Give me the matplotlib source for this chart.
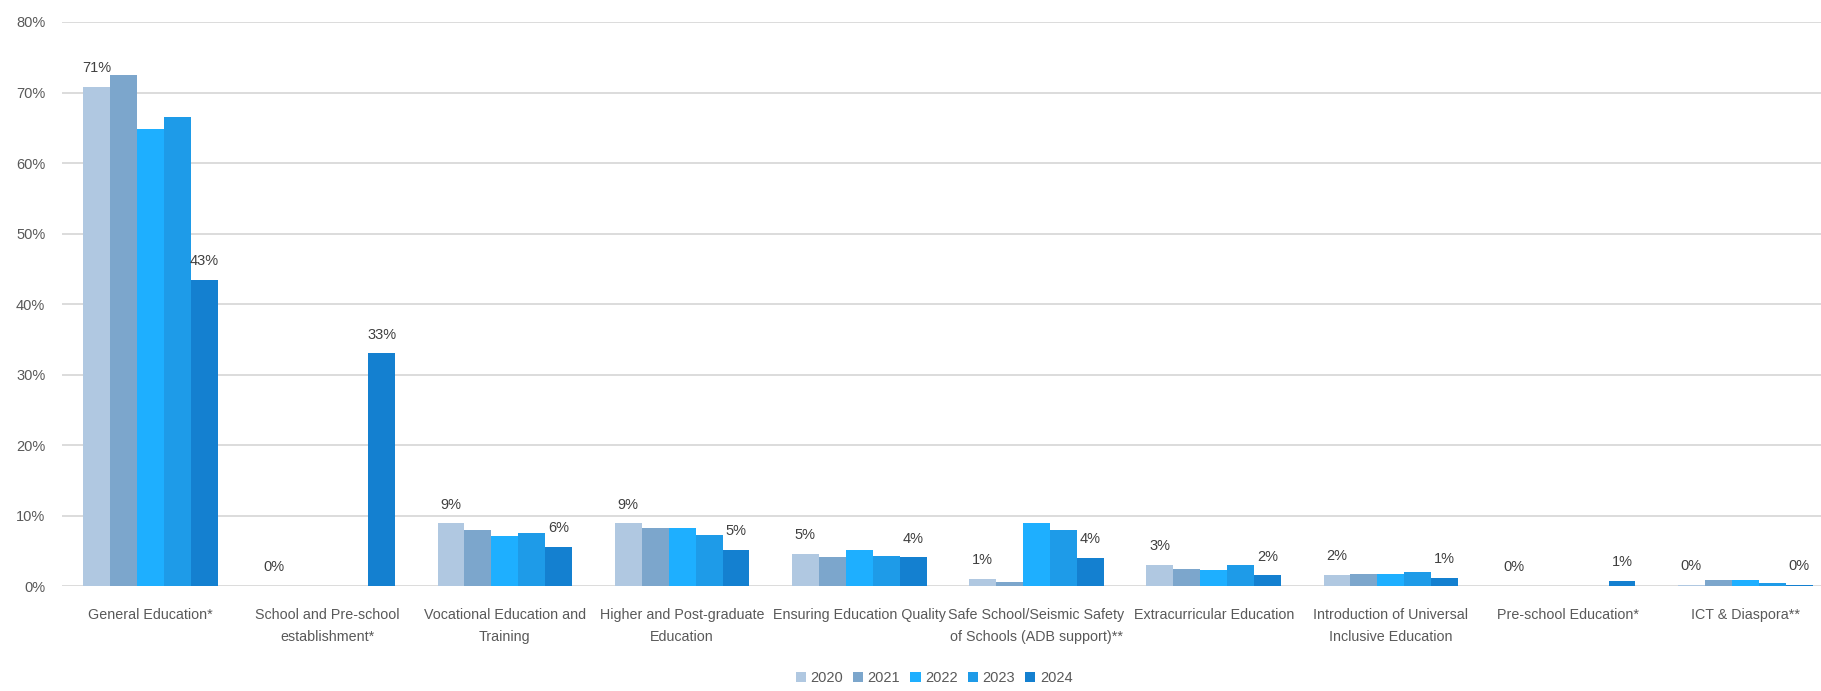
import numpy as np
import matplotlib.pyplot as plt

plt.rcParams['font.family'] = ['Liberation Sans', 'DejaVu Sans']

# share of education spending by programme, percent
categories = [
    "General Education*",
    "School and Pre-school\nestablishment*",
    "Vocational Education and\nTraining",
    "Higher and Post-graduate\nEducation",
    "Ensuring Education Quality",
    "Safe School/Seismic Safety\nof Schools (ADB support)**",
    "Extracurricular Education",
    "Introduction of Universal\nInclusive Education",
    "Pre-school Education*",
    "ICT & Diaspora**",
]
years = ["2020", "2021", "2022", "2023", "2024"]

y2020 = [70.8, 0.0, 8.9, 8.9, 4.6, 1.0, 3.0, 1.6, 0.0, 0.15]
y2021 = [72.5, 0.0, 8.0, 8.3, 4.2, 0.6, 2.5, 1.7, 0.0, 0.85]
y2022 = [64.8, 0.0, 7.1, 8.3, 5.2, 8.95, 2.35, 1.75, 0.0, 0.85]
y2023 = [66.5, 0.0, 7.6, 7.3, 4.3, 7.9, 3.05, 2.05, 0.0, 0.45]
y2024 = [43.4, 33.0, 5.55, 5.1, 4.1, 4.0, 1.55, 1.2, 0.75, 0.2]

colors = ["#B0C8E1", "#7CA6CC", "#1EAFFF", "#1E9BE8", "#1480D0"]

series = [y2020, y2021, y2022, y2023, y2024]

fig = plt.figure(figsize=(18.21, 6.91), dpi=100)
ax = fig.add_axes([61.9 / 1821, 104.8 / 691, 1772 / 1821, 564.2 / 691])

x = np.arange(len(categories))
bw = 0.152
offsets = (np.arange(len(years)) - 2) * bw

bars = []
for i, (vals, col, yr) in enumerate(zip(series, colors, years)):
    b = ax.bar(x + offsets[i], vals, width=bw, color=col, label=yr, zorder=3)
    bars.append(b)

# value labels on the first and last year only
for idx in (0, 4):
    for xi, v in zip(x + offsets[idx], series[idx]):
        ax.annotate(f"{v:.0f}%", (xi, v), xytext=(0, 13.5),
                    textcoords="offset points", ha="center", va="center",
                    fontsize=10.5, color="#404040")

ax.set_xlim(-0.5, 9.5)
ax.set_ylim(0, 80)
ax.set_yticks(np.arange(0, 81, 10))
ax.set_yticklabels([f"{t}%" for t in range(0, 81, 10)])
ax.set_xticks(x)
ax.set_xticklabels(categories, fontsize=10.3, color="#595959", linespacing=1.7)

ax.grid(axis="y", color="#D9D9D9", linewidth=1.3, zorder=0)
for s in ax.spines.values():
    s.set_visible(False)
ax.tick_params(axis="both", length=0)
ax.tick_params(axis="y", labelsize=10.5, labelcolor="#595959", pad=12)
ax.tick_params(axis="x", pad=16)

leg = fig.legend(handles=bars, labels=years, loc="center",
                 bbox_to_anchor=(934 / 1821, 1 - 678 / 691), ncol=5,
                 frameon=False, fontsize=10.5, handlelength=0.7,
                 handleheight=0.7, handletextpad=0.3, columnspacing=0.7)
for t in leg.get_texts():
    t.set_color("#595959")

fig.savefig("out.png", dpi=100)
